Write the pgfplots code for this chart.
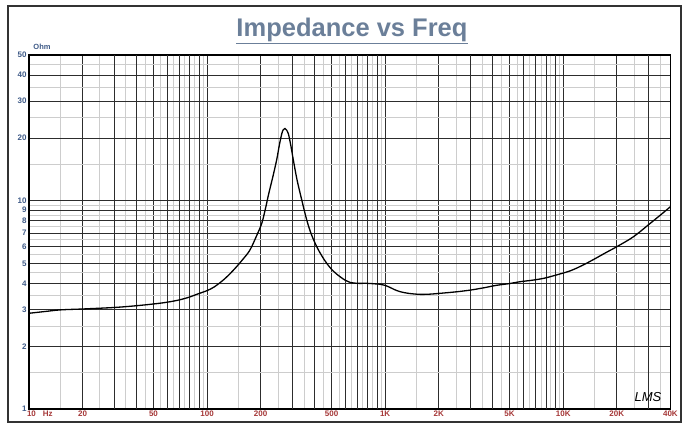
\documentclass[border=0pt]{standalone}
\usepackage{pgfplots}
\pgfplotsset{compat=1.18}
\usepackage{fontspec}
\setmainfont{Liberation Sans}
\definecolor{titlecol}{RGB}{107,127,153}
\definecolor{ycol}{RGB}{62,90,135}
\definecolor{xcol}{RGB}{165,55,55}
\definecolor{darkgrid}{RGB}{45,45,45}
\definecolor{lightgrid}{RGB}{205,205,205}
\begin{document}
\begin{tikzpicture}
\useasboundingbox (0pt,0pt) rectangle (683pt,425pt);
\draw[line width=1.4pt, black!80] (8pt,3pt) rectangle (681pt,419pt);
\node[anchor=base, text=titlecol, font=\fontsize{25.5}{28}\selectfont\bfseries] at (352pt,388.5pt) {\underline{Impedance vs Freq}};
\node[text=ycol, font=\fontsize{7.5}{9}\selectfont\bfseries] at (42pt,378pt) {Ohm};
\begin{axis}[
  at={(29pt,16pt)}, anchor=south west,
  scale only axis, width=641.4pt, height=354pt,
  xmode=log, ymode=log,
  xmin=10, xmax=40000, ymin=1, ymax=50,
  xtick={10,20,50,100,200,500,1000,2000,5000,10000,20000,40000},
  xticklabels={{\makebox[0pt][l]{\hspace*{-2pt}10\hspace{7pt}Hz}},20,50,100,200,500,1K,2K,5K,10K,20K,40K},
  extra x ticks={30,40,60,70,80,90,300,400,600,700,800,900,3000,4000,6000,7000,8000,9000,30000},
  extra x tick labels={},
  extra x tick style={grid=major},
  minor xtick={15,25,35,45,55,65,75,85,95,150,250,350,450,550,650,750,850,950,1500,2500,3500,4500,5500,6500,7500,8500,9500,15000,25000,35000},
  ytick={1,2,3,4,5,6,7,8,9,10,20,30,40,50},
  yticklabels={1,2,3,4,5,6,7,8,9,10,20,30,40,50},
  minor ytick={1.5,2.5,3.5,4.5,5.5,6.5,7.5,8.5,9.5,15,25,35,45},
  grid=both,
  major grid style={darkgrid, line width=0.8pt},
  minor grid style={lightgrid, line width=0.8pt},
  major tick length=0pt, minor tick length=0pt,
  axis line style={black, line width=1.1pt},
  xticklabel style={text=xcol, font=\fontsize{8}{9}\selectfont\bfseries, yshift=2pt},
  yticklabel style={text=ycol, font=\fontsize{8}{9}\selectfont\bfseries, xshift=1pt},
  /pgf/number format/assume math mode=true,
  clip=true,
]
\addplot[black, line width=1.3pt, smooth, tension=0.55] coordinates {
(10,2.88) (12,2.93) (15,2.99) (20,3.02) (30,3.07) (40,3.13) (53,3.21) (63,3.28) (72,3.36) (80,3.45)
(89,3.57) (100,3.70) (110,3.86) (125,4.2) (141,4.65) (158,5.2) (174,5.79) (190,6.8) (203,7.8)
(213,9.2) (222,10.8) (234,13.0) (246,15.7) (255,18.6) (263,21.0) (268,21.9) (274,22.2) (280,21.8)
(286,21.0) (295,18.5) (305,15.7) (320,12.6) (340,10.1) (363,8.07) (385,6.9) (413,6.01) (440,5.45)
(470,5.0) (510,4.6) (559,4.31) (600,4.14) (636,4.05) (700,4.01) (788,4.01) (870,3.99) (937,3.97)
(1000,3.92) (1067,3.83) (1130,3.74) (1210,3.66) (1350,3.59) (1570,3.55) (1800,3.56) (2030,3.59)
(2500,3.65) (3000,3.72) (3600,3.82) (4200,3.92) (5000,4.0) (5700,4.08) (6700,4.15) (7800,4.24)
(9000,4.38) (11000,4.61) (13000,4.92) (15000,5.25) (17500,5.65) (20000,6.01) (24800,6.71)
(30800,7.78) (35000,8.5) (40000,9.35)
};
\end{axis}
\node[font=\fontsize{13}{14}\selectfont\itshape] at (648pt,28pt) {LMS};
\end{tikzpicture}
\end{document}
